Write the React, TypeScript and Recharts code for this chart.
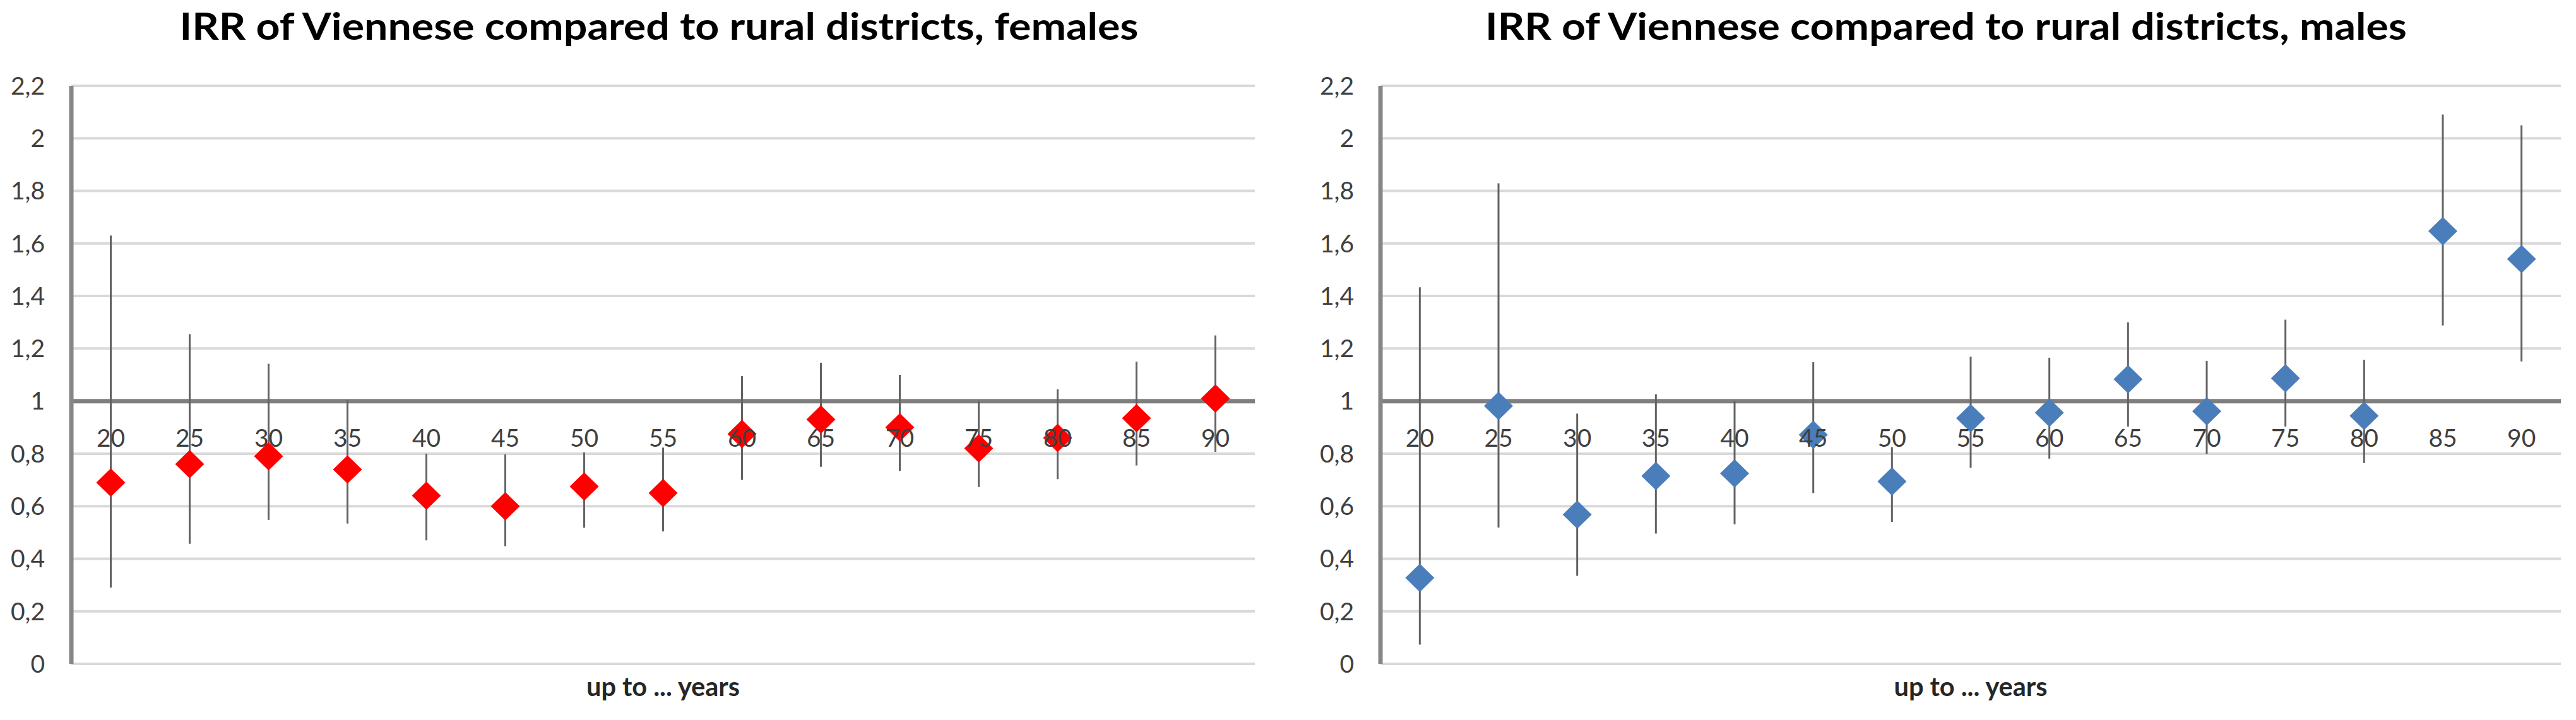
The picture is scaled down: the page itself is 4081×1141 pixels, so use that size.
import React from 'react';
import {
  ComposedChart,
  Scatter,
  XAxis,
  YAxis,
  CartesianGrid,
  ReferenceLine,
  ErrorBar,
} from 'recharts';

const categories = [20, 25, 30, 35, 40, 45, 50, 55, 60, 65, 70, 75, 80, 85, 90];
const yTicks = [0, 0.2, 0.4, 0.6, 0.8, 1, 1.2, 1.4, 1.6, 1.8, 2, 2.2];

const femaleIRR = [0.69, 0.76, 0.79, 0.74, 0.64, 0.6, 0.675, 0.65, 0.875, 0.93, 0.9, 0.82, 0.86, 0.935, 1.01];
const femaleLow = [0.29, 0.457, 0.548, 0.534, 0.47, 0.448, 0.518, 0.504, 0.7, 0.75, 0.734, 0.673, 0.703, 0.755, 0.807];
const femaleHigh = [1.63, 1.255, 1.142, 1.005, 0.8, 0.797, 0.805, 0.823, 1.095, 1.146, 1.1, 1.0, 1.045, 1.15, 1.25];

const maleIRR = [0.327, 0.982, 0.568, 0.715, 0.725, 0.872, 0.694, 0.935, 0.956, 1.083, 0.961, 1.087, 0.944, 1.647, 1.541];
const maleLow = [0.073, 0.519, 0.335, 0.496, 0.531, 0.65, 0.54, 0.746, 0.781, 0.903, 0.799, 0.903, 0.764, 1.288, 1.151];
const maleHigh = [1.433, 1.829, 0.952, 1.026, 1.0, 1.148, 0.825, 1.169, 1.165, 1.3, 1.153, 1.31, 1.157, 2.091, 2.05];

const FONT = "Lato, 'Open Sans', 'DejaVu Sans', sans-serif";

function buildRows(irr: number[], low: number[], high: number[]) {
  return categories.map((age, i) => ({
    age,
    irr: irr[i],
    err: [irr[i] - low[i], high[i] - irr[i]],
    axis: 1,
  }));
}

const fmt = (v: number) => String(Number(v.toFixed(1))).replace('.', ',');

const makeDiamond = (color: string) => (props: any) => {
  const { cx, cy } = props;
  if (cx == null || cy == null) return null;
  const w = 23;
  const h = 22.5;
  return (
    <path
      d={`M${cx},${cy - h} L${cx + w},${cy} L${cx},${cy + h} L${cx - w},${cy} Z`}
      fill={color}
    />
  );
};

const CatLabel = (props: any) => {
  const { cx, cy, payload } = props;
  if (cx == null || cy == null) return null;
  return (
    <text
      x={cx}
      y={cy + 72}
      textAnchor="middle"
      fontFamily={FONT}
      fontSize={39}
      fill="#404040"
    >
      {payload.age}
    </text>
  );
};

interface PanelProps {
  title: string;
  titleWidth: number;
  titleX: number;
  width: number;
  yAxisWidth: number;
  rightMargin: number;
  color: string;
  irr: number[];
  low: number[];
  high: number[];
}

function Panel(p: PanelProps) {
  const rows = buildRows(p.irr, p.low, p.high);
  return (
    <div style={{ position: 'relative', width: p.width, height: 1141 }}>
      <svg
        width={p.width}
        height={100}
        style={{ position: 'absolute', left: 0, top: 0, zIndex: 2 }}
      >
        <text
          x={p.titleX}
          y={63}
          textAnchor="middle"
          fontFamily={FONT}
          fontWeight={700}
          fontSize={60}
          fill="#000"
          textLength={p.titleWidth}
          lengthAdjust="spacingAndGlyphs"
        >
          {p.title}
        </text>
      </svg>
      <ComposedChart
        width={p.width}
        height={1141}
        data={rows}
        margin={{ top: 136, right: p.rightMargin, bottom: 0, left: 0 }}
      >
        <CartesianGrid vertical={false} stroke="#d9d9d9" strokeWidth={4} />
        <XAxis
          type="number"
          dataKey="age"
          domain={[17.5, 92.5]}
          ticks={categories}
          tick={false}
          tickLine={false}
          axisLine={false}
          height={89}
          label={{
            content: (lp: any) => {
              const vb = lp.viewBox || {};
              return (
                <text
                  x={vb.x + vb.width / 2}
                  y={vb.y + 51}
                  textAnchor="middle"
                  fontFamily={FONT}
                  fontWeight={700}
                  fontSize={42}
                  fill="#262626"
                  textLength={243}
                  lengthAdjust="spacingAndGlyphs"
                >
                  up to ... years
                </text>
              );
            },
          }}
        />
        <YAxis
          type="number"
          domain={[0, 2.2]}
          ticks={yTicks}
          interval={0}
          width={p.yAxisWidth}
          tickFormatter={fmt}
          tickLine={false}
          tickMargin={36}
          axisLine={{ stroke: '#868686', strokeWidth: 7 }}
          tick={{ fontFamily: FONT, fontSize: 39, fill: '#404040' }}
        />
        <ReferenceLine y={1} stroke="#7f7f7f" strokeWidth={7} />
        <Scatter
          dataKey="irr"
          shape={makeDiamond(p.color)}
          isAnimationActive={false}
        >
          <ErrorBar
            dataKey="err"
            direction="y"
            width={0}
            stroke="#636363"
            strokeWidth={3}
            isAnimationActive={false}
          />
        </Scatter>
        <Scatter dataKey="axis" shape={CatLabel} isAnimationActive={false} />
      </ComposedChart>
    </div>
  );
}

export default function App() {
  return (
    <div
      style={{
        position: 'absolute',
        left: 0,
        top: 0,
        width: 4081,
        height: 1141,
        background: '#fff',
        display: 'flex',
      }}
    >
      <Panel
        title="IRR of Viennese compared to rural districts, females"
        titleWidth={1519}
        titleX={1044}
        width={2040}
        yAxisWidth={113}
        rightMargin={52}
        color="#ff0000"
        irr={femaleIRR}
        low={femaleLow}
        high={femaleHigh}
      />
      <Panel
        title="IRR of Viennese compared to rural districts, males"
        titleWidth={1460}
        titleX={1043}
        width={2041}
        yAxisWidth={147}
        rightMargin={24}
        color="#4a7ebb"
        irr={maleIRR}
        low={maleLow}
        high={maleHigh}
      />
    </div>
  );
}
